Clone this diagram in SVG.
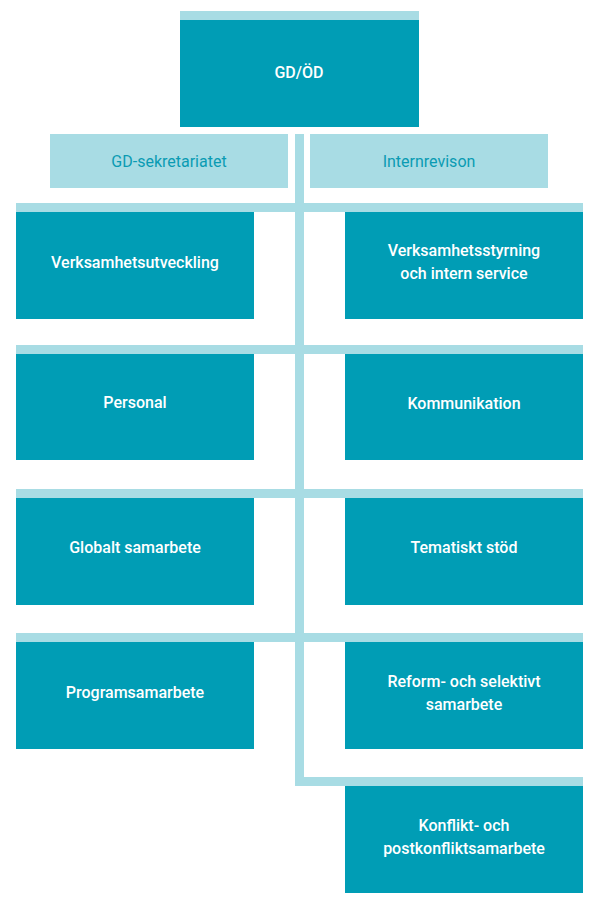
<svg xmlns="http://www.w3.org/2000/svg" width="601" height="912" viewBox="0 0 601 912">
<style>
.d{fill:#009db5}.l{fill:#a8dce4}
text{font-family:Roboto,"Liberation Sans",sans-serif;font-size:16px;font-weight:500;text-anchor:middle;fill:#fff}
.t{fill:#0a9bb3;font-weight:400}
</style>
<rect width="601" height="912" fill="#fff"/>
<g id="connectors" class="l">
<rect x="180" y="11" width="239" height="9"/>
<rect x="295" y="134" width="9" height="652"/>
<rect x="16" y="203" width="567" height="9"/>
<rect x="16" y="345" width="567" height="9"/>
<rect x="16" y="489" width="567" height="9"/>
<rect x="16" y="633" width="567" height="9"/>
<rect x="295" y="777" width="288" height="9"/>
</g>
<g id="gd"><rect class="d" x="180" y="20" width="239" height="107"/><text x="299" y="78">GD/ÖD</text></g>
<g id="sek"><rect class="l" x="50" y="134" width="238" height="54"/><text class="t" x="169" y="167">GD-sekretariatet</text></g>
<g id="intern"><rect class="l" x="310" y="134" width="238" height="54"/><text class="t" x="429" y="167">Internrevison</text></g>
<g id="n1"><rect class="d" x="16" y="212" width="238" height="107"/><text x="135" y="268">Verksamhetsutveckling</text></g>
<g id="n2"><rect class="d" x="345" y="212" width="238" height="107"/><text x="464" y="256">Verksamhetsstyrning</text><text x="464" y="279">och intern service</text></g>
<g id="n3"><rect class="d" x="16" y="354" width="238" height="106"/><text x="135" y="408">Personal</text></g>
<g id="n4"><rect class="d" x="345" y="354" width="238" height="106"/><text x="464" y="409">Kommunikation</text></g>
<g id="n5"><rect class="d" x="16" y="498" width="238" height="107"/><text x="135" y="553">Globalt samarbete</text></g>
<g id="n6"><rect class="d" x="345" y="498" width="238" height="107"/><text x="464" y="553">Tematiskt stöd</text></g>
<g id="n7"><rect class="d" x="16" y="642" width="238" height="107"/><text x="135" y="698">Programsamarbete</text></g>
<g id="n8"><rect class="d" x="345" y="642" width="238" height="107"/><text x="464" y="687">Reform- och selektivt</text><text x="464" y="710">samarbete</text></g>
<g id="n9"><rect class="d" x="345" y="786" width="238" height="107"/><text x="464" y="831">Konflikt- och</text><text x="464" y="854">postkonfliktsamarbete</text></g>
</svg>
